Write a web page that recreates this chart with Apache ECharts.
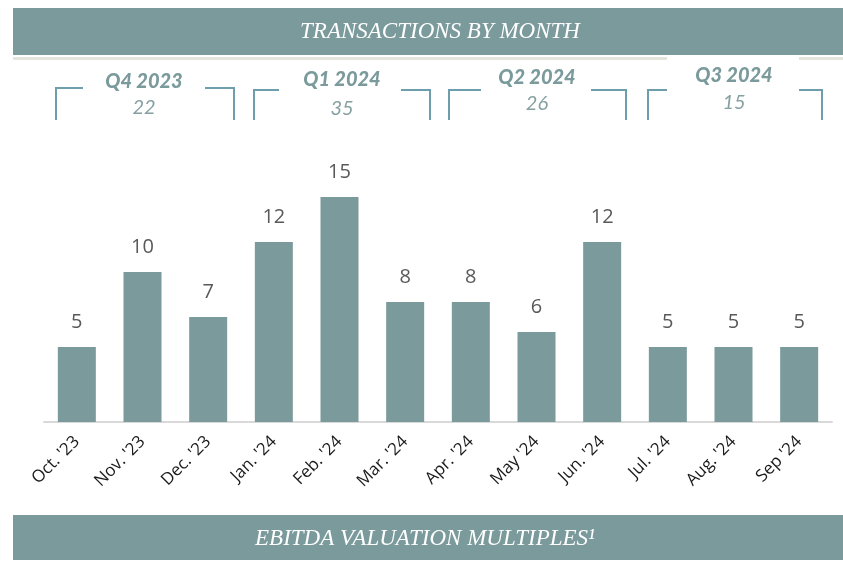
<!DOCTYPE html>
<html>
<head>
<meta charset="utf-8">
<script src="https://cdn.jsdelivr.net/npm/echarts@6/dist/echarts.min.js"></script>
<style>
  html, body { margin: 0; padding: 0; background: #fff; }
  #chart { width: 843px; height: 563px; }
</style>
</head>
<body>
<div id="chart"></div>
<script>
const months = ["Oct. '23", "Nov. '23", "Dec. '23", "Jan. '24", "Feb. '24", "Mar. '24",
  "Apr. '24", "May '24", "Jun. '24", "Jul. '24", "Aug. '24", "Sep '24"]
const transactions = [5, 10, 7, 12, 15, 8, 8, 6, 12, 5, 5, 5]
const quarters = ['Q4 2023', 'Q1 2024', 'Q2 2024', 'Q3 2024']
const quarterTotals = [22, 35, 26, 15]

const teal = '#7b9a9c'
const bracketColor = '#6e9dac'

// quarter header placement (decoration only)
const qCenterX = [144, 342, 537, 734]
const qLabelY = [82, 80, 78, 76]
const qValueY = [108, 109, 104, 103]
const brackets = [
  { l: 56, r: 234, top: 88, gl: 83, gr: 205 },
  { l: 254, r: 430, top: 90, gl: 279, gr: 401 },
  { l: 449, r: 626, top: 90, gl: 481, gr: 591 },
  { l: 648, r: 822, top: 90, gl: 667, gr: 799 }
]

const chart = echarts.init(document.getElementById('chart'))

const graphic = [
  { type: 'rect', shape: { x: 13, y: 8, width: 830, height: 47 }, style: { fill: teal } },
  { type: 'rect', shape: { x: 13, y: 515, width: 830, height: 45 }, style: { fill: teal } },
  { type: 'line', shape: { x1: 13, y1: 58.5, x2: 667, y2: 58.5 }, style: { stroke: '#e4e5dd', lineWidth: 3 } },
  { type: 'line', shape: { x1: 799, y1: 58.5, x2: 843, y2: 58.5 }, style: { stroke: '#e4e5dd', lineWidth: 3 } },
  {
    type: 'text', x: 440, y: 32,
    style: {
      text: 'TRANSACTIONS BY MONTH', fill: '#fff', align: 'center', verticalAlign: 'middle',
      font: 'italic 23px "Liberation Serif"'
    }
  },
  {
    type: 'text', x: 425, y: 539,
    style: {
      text: 'EBITDA VALUATION MULTIPLES¹', fill: '#fff', align: 'center', verticalAlign: 'middle',
      font: 'italic 23px "Liberation Serif"'
    }
  }
]

brackets.forEach(b => {
  graphic.push({
    type: 'polyline',
    shape: { points: [[b.l, 120], [b.l, b.top], [b.gl, b.top]] },
    style: { stroke: bracketColor, lineWidth: 2, fill: null }
  })
  graphic.push({
    type: 'polyline',
    shape: { points: [[b.gr, b.top], [b.r, b.top], [b.r, 120]] },
    style: { stroke: bracketColor, lineWidth: 2, fill: null }
  })
})

quarters.forEach((q, i) => {
  graphic.push({
    type: 'text', x: qCenterX[i], y: qLabelY[i],
    style: {
      text: q, fill: teal, align: 'center', verticalAlign: 'middle',
      font: 'italic 900 20px Lato'
    }
  })
  graphic.push({
    type: 'text', x: qCenterX[i], y: qValueY[i],
    style: {
      text: String(quarterTotals[i]), fill: '#86a0a2', align: 'center', verticalAlign: 'middle',
      font: 'italic 20px Lato'
    }
  })
})

chart.setOption({
  animation: false,
  grid: {
    left: 44,
    right: 11,
    top: 197,
    bottom: 141
  },
  xAxis: {
    type: 'category',
    data: months,
    axisTick: { show: false },
    axisLine: { lineStyle: { color: '#d9d9d9', width: 2 } },
    axisLabel: {
      rotate: 45,
      interval: 0,
      margin: 17,
      color: '#1a1a1a',
      fontFamily: 'Open Sans',
      fontSize: 17
    }
  },
  yAxis: {
    type: 'value',
    min: 0,
    max: 15,
    show: false
  },
  series: [{
    type: 'bar',
    data: transactions,
    barWidth: 38,
    itemStyle: { color: teal },
    label: {
      show: true,
      position: 'top',
      distance: 15,
      color: '#595959',
      fontFamily: 'Open Sans',
      fontSize: 20
    }
  }],
  graphic: graphic
})
</script>
</body>
</html>
